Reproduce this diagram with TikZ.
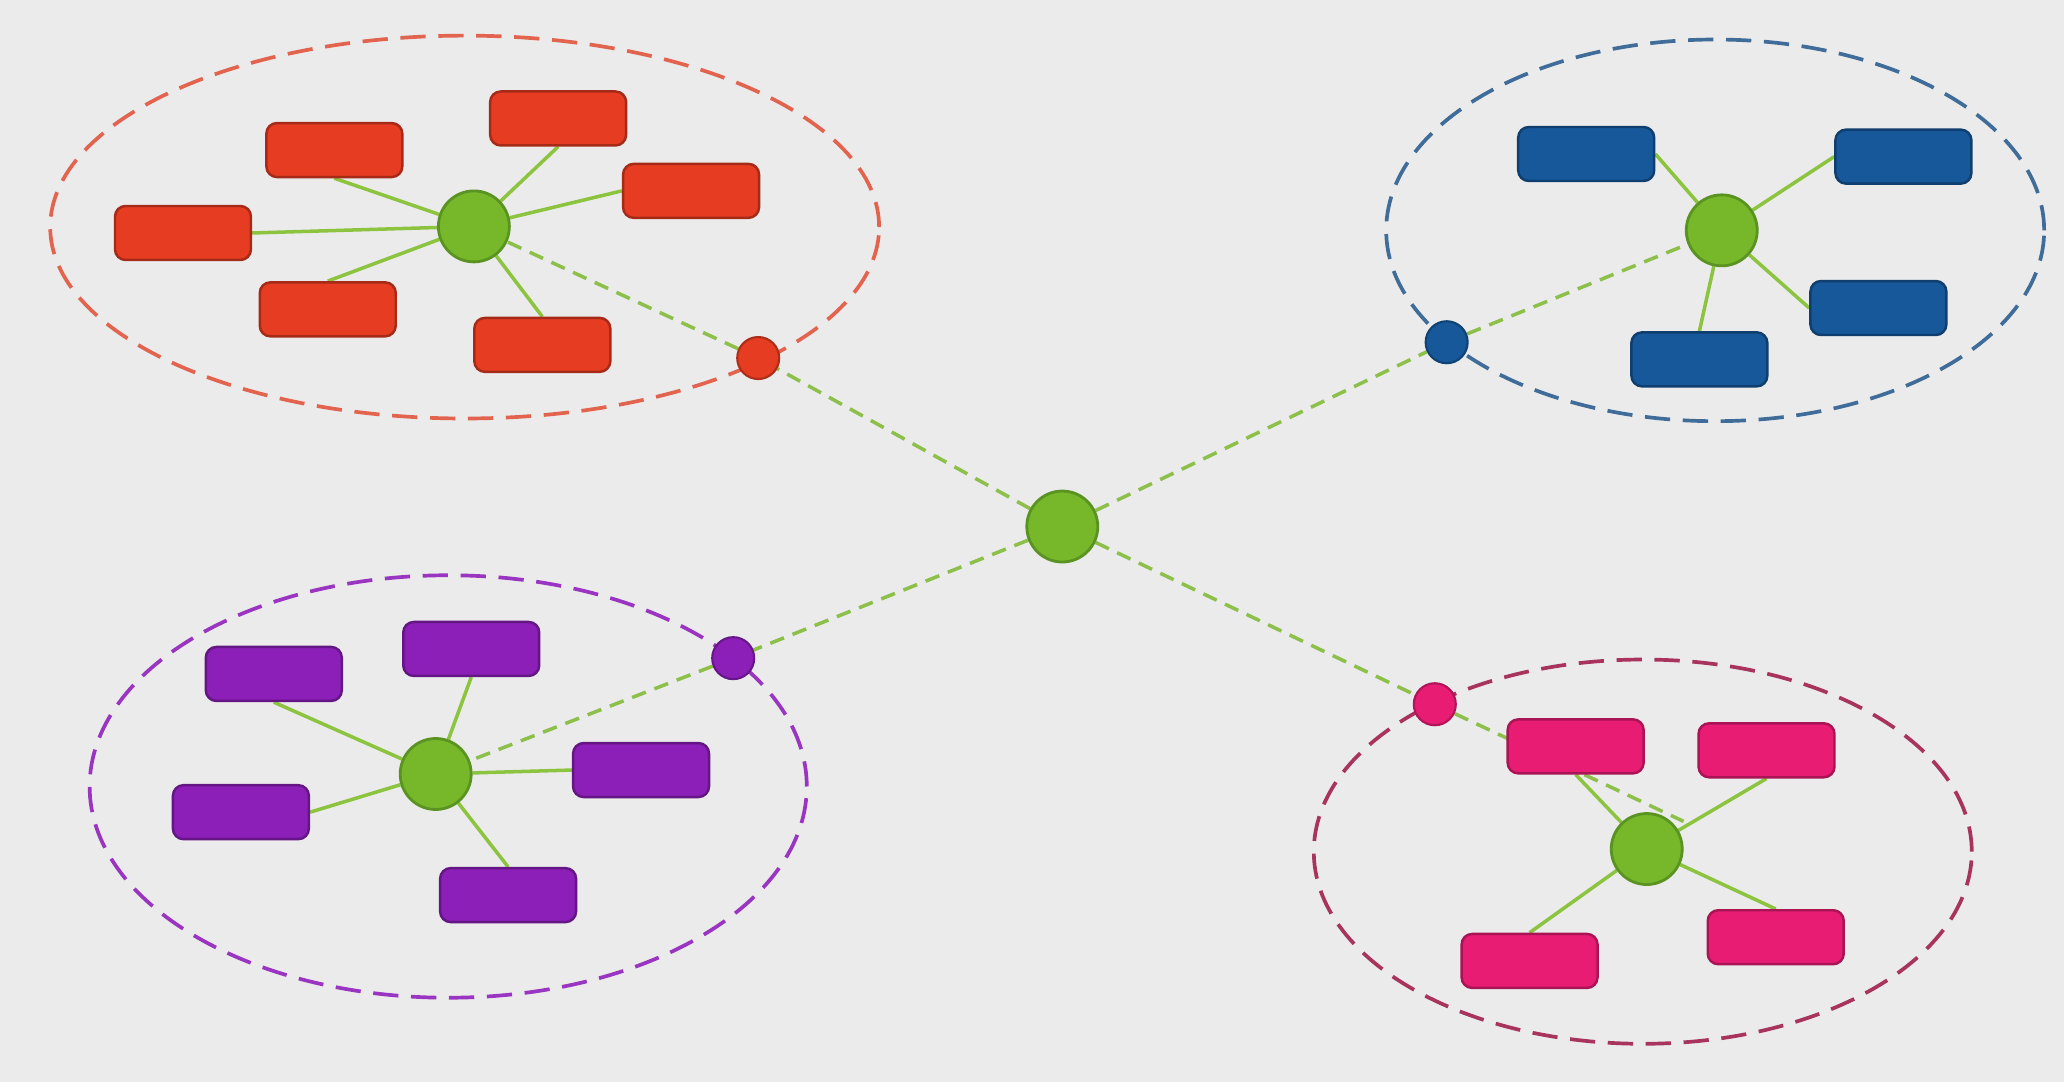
\documentclass[tikz,border=0pt]{standalone}
\usepackage{xcolor}
\usepackage{tikz}
\usetikzlibrary{shapes,arrows.meta,positioning,calc,backgrounds}

\definecolor{bgGrey}{HTML}{EBEBEB}
\definecolor{hubGreen}{HTML}{77B82A}
\definecolor{hubEdge}{HTML}{5A9322}
\definecolor{spokeGreen}{HTML}{8CC43F}
\definecolor{linkGreen}{HTML}{8DC04A}
\definecolor{boxRed}{HTML}{E53C22}
\definecolor{boxBlue}{HTML}{16589A}
\definecolor{boxPurple}{HTML}{8B1FB8}
\definecolor{boxPink}{HTML}{E91C74}
\definecolor{rimRed}{HTML}{E2644E}
\definecolor{rimBlue}{HTML}{3F6C98}
\definecolor{rimPurple}{HTML}{9A35C2}
\definecolor{rimPink}{HTML}{A8345E}

\begin{document}
\begin{tikzpicture}[
    x=0.013163cm, y=-0.013163cm,
    box/.style={rectangle, draw=#1!72!black, fill=#1, line width=0.7pt, minimum width=1.36cm, minimum height=0.54cm, rounded corners=3pt, inner sep=0pt},
    hub/.style={circle, draw=hubEdge, fill=hubGreen, line width=0.8pt, minimum size=0.71cm, inner sep=0pt},
    port/.style={circle, draw=#1!75!black, fill=#1, line width=0.6pt, minimum size=0.42cm, inner sep=0pt},
    spoke/.style={draw=spokeGreen, line width=1pt},
    link/.style={draw=linkGreen, line width=1pt, dash pattern=on 4.2pt off 2.6pt},
    grp/.style={draw=#1, line width=1.05pt, dash pattern=on 7.2pt off 3.6pt}
]
\node[hub] (c) at (807,400) {};

\node[hub] (rh) at (360,172) {};
\node[box=boxRed] (r1) at (254,114) {};
\node[box=boxRed] (r2) at (424,90) {};
\node[box=boxRed] (r3) at (525,145) {};
\node[box=boxRed] (r4) at (139,177) {};
\node[box=boxRed] (r5) at (249,235) {};
\node[box=boxRed] (r6) at (412,262) {};
\node[port=boxRed] (rd) at (576,272) {};

\node[hub] (bh) at (1308,175) {};
\node[box=boxBlue] (b1) at (1205,117) {};
\node[box=boxBlue] (b2) at (1446,119) {};
\node[box=boxBlue] (b3) at (1427,234) {};
\node[box=boxBlue] (b4) at (1291,273) {};
\node[port=boxBlue] (bd) at (1099,260) {};

\node[hub] (ph) at (331,588) {};
\node[box=boxPurple] (p1) at (208,512) {};
\node[box=boxPurple] (p2) at (358,493) {};
\node[box=boxPurple] (p3) at (487,585) {};
\node[box=boxPurple] (p4) at (183,617) {};
\node[box=boxPurple] (p5) at (386,680) {};
\node[port=boxPurple] (pd) at (557,500) {};

\node[hub] (kh) at (1251,645) {};
\node[box=boxPink] (k1) at (1197,567) {};
\node[box=boxPink] (k2) at (1342,570) {};
\node[box=boxPink] (k3) at (1162,730) {};
\node[box=boxPink] (k4) at (1349,712) {};
\node[port=boxPink] (kd) at (1090,535) {};
\coordinate (kend) at (1279,624);

\begin{scope}[on background layer]
\fill[bgGrey] (0,0) rectangle (1568,822);
\draw[grp=rimRed] (353,172.5) ellipse [x radius=4.146cm, y radius=1.915cm];
\draw[grp=rimBlue] (1303,175) ellipse [x radius=3.291cm, y radius=1.909cm];
\draw[grp=rimPurple] (340.5,597.5) ellipse [x radius=3.587cm, y radius=2.113cm];
\draw[grp=rimPink] (1248,647) ellipse [x radius=3.291cm, y radius=1.922cm];
\draw[link] (c) -- (rd) -- (rh);
\draw[link] (c) -- (bd) -- (bh);
\draw[link] (c) -- (pd) -- (ph);
\draw[link] (c) -- (kd) -- (kend);
\draw[spoke] (rh) -- (r1.south) (rh) -- (r2.south) (rh) -- (r3.west) (rh) -- (r4.east) (rh) -- (r5.north) (rh) -- (r6.north);
\draw[spoke] (bh) -- (b1.east) (bh) -- (b2.west) (bh) -- (b3.west) (bh) -- (b4.north);
\draw[spoke] (ph) -- (p1.south) (ph) -- (p2.south) (ph) -- (p3.west) (ph) -- (p4.east) (ph) -- (p5.north);
\draw[spoke] (kh) -- (k1.south) (kh) -- (k2.south) (kh) -- (k3.north) (kh) -- (k4.north);
\end{scope}
\end{tikzpicture}
\end{document}
